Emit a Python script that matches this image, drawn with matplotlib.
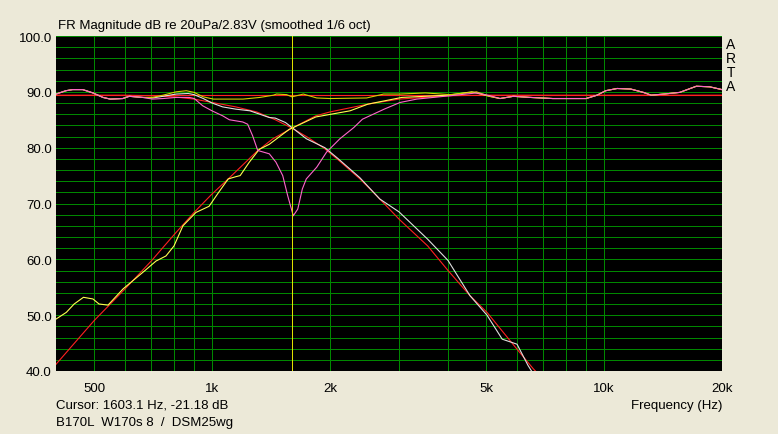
import matplotlib
matplotlib.use("Agg")
import matplotlib.pyplot as plt
from matplotlib.ticker import FixedLocator, NullFormatter

# --- data (Hz, dB) ---
f_flat = [400, 20000]
db_flat = [89.4, 89.4]

f_lp_t = [400, 600, 700, 800, 900, 1000, 1150, 1300, 1450, 1600, 1750, 1940, 2100,
          2385, 2630, 3000, 3550, 4000, 4550, 5030, 6000, 6600, 6900]
db_lp_t = [89.4, 89.4, 89.3, 89.1, 88.7, 88.1, 87.3, 86.4, 85.0, 83.5, 81.9, 79.8, 77.8,
           74.4, 71.4, 67.2, 62.4, 58.0, 53.5, 50.5, 43.9, 40.4, 39.0]

f_hp_t = [400, 500, 600, 700, 800, 900, 1000, 1100, 1300, 1430, 1600, 1840, 2000,
          2500, 3000, 4000, 5000, 20000]
db_hp_t = [41.2, 49.0, 54.7, 59.7, 64.4, 68.4, 71.7, 74.4, 79.3, 81.6, 83.5, 85.7, 86.4,
           87.8, 88.7, 89.3, 89.4, 89.4]

f_woof = [400, 424, 441, 468, 497, 527, 550, 592, 615, 665, 705, 750, 810, 870, 900,
          950, 1000, 1065, 1150, 1250, 1400, 1450, 1540, 1600, 1740, 1940, 2100, 2385,
          2680, 3000, 3550, 4000, 4550, 5030, 5500, 6000, 6400, 6600]
db_woof = [89.6, 90.2, 90.4, 90.4, 89.8, 89.0, 88.7, 88.8, 89.2, 89.0, 88.9, 89.2, 89.6,
           89.7, 89.5, 88.8, 88.0, 87.3, 86.9, 86.6, 85.4, 85.3, 84.5, 83.6, 81.6, 80.0,
           78.0, 74.6, 70.8, 68.5, 63.6, 59.8, 53.5, 50.0, 45.7, 44.8, 41.0, 39.5]

f_tw = [400, 425, 445, 470, 497, 515, 543, 593, 667, 720, 763, 800, 843, 910, 983,
        1040, 1100, 1150, 1180, 1245, 1320, 1400, 1456, 1575, 1600, 1840, 2250, 2500,
        3050, 4000, 4600, 5100, 5430, 5870, 6480, 7400, 9000, 9600, 10100, 10800,
        11700, 12600, 13200, 14200, 15600, 17200, 18600, 20000]
db_tw = [49.3, 50.5, 52.0, 53.2, 52.9, 52.0, 51.8, 54.7, 57.7, 59.7, 60.6, 62.4, 66.0,
         68.4, 69.5, 72.0, 74.4, 74.8, 75.0, 77.4, 79.7, 80.6, 81.5, 83.3, 83.5, 85.5,
         86.6, 87.8, 89.0, 89.4, 90.0, 89.2, 88.8, 89.2, 89.0, 88.8, 88.8, 89.4, 90.2,
         90.6, 90.5, 89.9, 89.4, 89.6, 89.9, 91.0, 90.9, 90.4]

f_sum = [400, 424, 441, 468, 497, 527, 550, 592, 615, 665, 705, 750, 810, 860, 900,
         950, 1008, 1200, 1326, 1434, 1460, 1550, 1600, 1710, 1850, 2000, 2480, 2740,
         3020, 3500, 4050, 4730, 5100, 5430, 5870, 6480, 7400, 9000, 9600, 10100,
         10800, 11700, 12600, 13200, 14200, 15600, 17200, 18600, 20000]
db_sum = [89.6, 90.2, 90.4, 90.4, 89.8, 89.0, 88.7, 88.8, 89.2, 89.0, 89.0, 89.4, 90.0,
          90.2, 89.9, 89.1, 88.7, 88.7, 89.0, 89.4, 89.6, 89.5, 89.1, 89.6, 88.9, 88.8,
          88.9, 89.6, 89.6, 89.8, 89.5, 90.0, 89.2, 88.8, 89.2, 89.0, 88.8, 88.8, 89.4,
          90.2, 90.6, 90.5, 89.9, 89.4, 89.6, 89.9, 91.0, 90.9, 90.4]

f_rev = [400, 424, 441, 468, 497, 527, 550, 592, 615, 665, 705, 750, 810, 875, 901,
         947, 1000, 1065, 1107, 1198, 1233, 1270, 1308, 1400, 1456, 1515, 1560, 1612,
         1655, 1700, 1740, 1850, 1960, 2120, 2300, 2420, 2750, 3020, 3330, 3670, 4050,
         4730, 5120, 5430, 5870, 6480, 7400, 9000, 9600, 10100, 10800, 11700, 12600,
         13200, 14200, 15600, 17200, 18600, 20000]
db_rev = [89.6, 90.2, 90.4, 90.4, 89.8, 89.0, 88.7, 88.8, 89.2, 89.0, 88.7, 88.8, 89.0,
          89.0, 88.8, 87.5, 86.6, 85.7, 85.0, 84.6, 84.2, 82.1, 79.5, 78.9, 77.4, 75.0,
          71.4, 67.8, 69.0, 72.6, 74.4, 76.5, 79.2, 81.6, 83.6, 85.1, 86.9, 88.1, 88.7,
          89.0, 89.3, 89.8, 89.3, 88.8, 89.2, 89.0, 88.8, 88.8, 89.4, 90.2, 90.6, 90.5,
          89.9, 89.4, 89.6, 89.9, 91.0, 90.9, 90.4]

cursor_f = 1603.1
x_major = [500, 1000, 2000, 5000, 10000, 20000]
x_labels = ["500", "1k", "2k", "5k", "10k", "20k"]
x_minor = [600, 700, 800, 900, 3000, 4000, 6000, 7000, 8000, 9000]
y_major = [40, 50, 60, 70, 80, 90, 100]

bg = "#ECE9D8"
plt.rcParams['font.family'] = ['Liberation Sans', 'DejaVu Sans']

fig = plt.figure(figsize=(7.78, 4.35), dpi=100, facecolor=bg)
ax = fig.add_axes([56 / 778, 1 - 372 / 435, 666 / 778, 335 / 435])
ax.set_facecolor("black")
ax.set_xscale("log")
ax.set_xlim(400, 20000)
ax.set_ylim(40, 100)

ax.xaxis.set_major_locator(FixedLocator(x_major))
ax.xaxis.set_minor_locator(FixedLocator(x_minor))
ax.set_xticklabels(x_labels)
ax.xaxis.set_minor_formatter(NullFormatter())
ax.set_yticks(y_major)
ax.set_yticks(range(40, 101, 2), minor=True)
ax.set_yticklabels(["%.1f" % v for v in y_major])
ax.tick_params(which="both", length=0)
ax.tick_params(axis="x", pad=8, labelsize=9.5)
ax.tick_params(axis="y", pad=3, labelsize=9.5)
ax.grid(True, which="both", color="#008800", linewidth=0.5, antialiased=False)
ax.set_axisbelow(True)
for s in ax.spines.values():
    s.set_visible(False)

lw = 0.8
ax.plot(f_flat, db_flat, color="#FF2020", lw=lw)
ax.plot(f_lp_t, db_lp_t, color="#FF2020", lw=lw)
ax.plot(f_hp_t, db_hp_t, color="#FF2020", lw=lw)
ax.plot(f_woof, db_woof, color="#E0E0E0", lw=lw)
ax.plot(f_tw, db_tw, color="#FFFF50", lw=lw)
ax.plot(f_sum, db_sum, color="#D0D000", lw=lw)
ax.plot(f_rev, db_rev, color="#FF66CC", lw=lw)
ax.axvline(cursor_f, color="#E0E000", lw=0.5, antialiased=False)

fig.text(58 / 778, 1 - 26 / 435, "FR Magnitude dB re 20uPa/2.83V (smoothed 1/6 oct)",
         fontsize=9.5, va="center", ha="left")
for i, ch in enumerate("ARTA"):
    fig.text(731 / 778, 1 - (45 + 14 * i) / 435, ch, fontsize=10, ha="center", va="center")
fig.text(722 / 778, 1 - 406 / 435, "Frequency (Hz)", fontsize=9.5, ha="right", va="center")
fig.text(56 / 778, 1 - 406 / 435, "Cursor: 1603.1 Hz, -21.18 dB", fontsize=9.5,
         ha="left", va="center")
fig.text(56 / 778, 1 - 423 / 435, "B170L  W170s 8  /  DSM25wg", fontsize=9.5,
         ha="left", va="center")

fig.savefig("out.png", dpi=100, facecolor=bg)
